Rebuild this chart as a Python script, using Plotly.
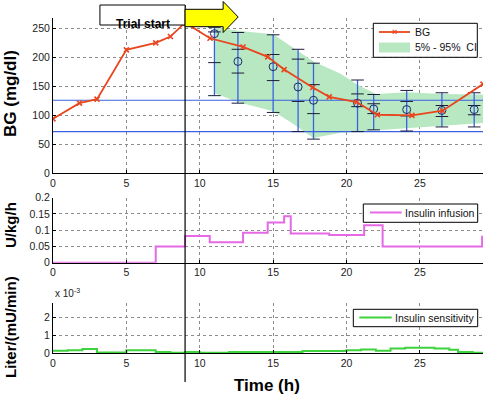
import plotly.graph_objects as go

# ---------------- data ----------------
# Blood glucose (mg/dl)
bg_t = [0, 1.8, 3.0, 5.0, 7.0, 8.0, 9.0, 10.7, 12.95, 14.63, 15.75, 17.7, 18.82, 20.7, 22.1, 24.46, 26.55, 29.3]
bg_v = [94, 121, 128, 213, 225, 236, 260, 233, 218, 201, 179, 148, 132, 123, 101, 100, 108, 154]

# 5%-95% confidence band
band_t = [11.0, 12.6, 15.0, 16.2, 17.75, 19.6, 20.75, 22.0, 24.1, 26.5, 29.3]
band_hi = [252, 246, 240, 219, 193, 172, 153, 137, 140, 137, 136]
band_lo = [138, 123, 107, 88, 61, 70, 72, 75, 78, 82, 87]

# Prediction error bars (mean circle, percentile ticks)
eb_t = [11.0, 12.6, 15.0, 16.7, 17.75, 20.75, 21.85, 24.1, 26.5, 28.7]
eb_mean = [241, 193, 184, 149, 126, 121, 111, 110, 108.5, 110]
eb_p5 = [134, 121, 105, 72, 59, 72, 75, 73, 80, 80]
eb_p25 = [191, 173, 160, 124, 103, 115, 103, 99, 98, 101]
eb_p75 = [244, 214, 205, 197, 153, 137, 120, 124, 117, 117]
eb_p95 = [252, 243, 239, 214, 190, 161, 136, 143, 139, 139]

# Target range (mg/dl)
target_lo = 72
target_hi = 126

# Insulin infusion (U/kg/h), step function
ins_t = [0, 7.0, 9.0, 10.68, 12.95, 14.63, 15.75, 16.2, 18.82, 21.2, 22.46, 29.24, 29.3]
ins_v = [0, 0.05, 0.082, 0.063, 0.092, 0.124, 0.143, 0.090, 0.085, 0.115, 0.050, 0.080, 0.080]

# Insulin sensitivity (Liter/(mU/min)), step function
sens_t = [0, 1, 2, 3, 5, 7, 8, 9, 10, 12, 17, 20, 21, 22, 23, 24, 26, 27, 27.6, 28.6, 29.3]
sens_v = [0.00012, 0.00015, 0.00022, 0.00003, 0.00015, 0.00006, 0.00002, 0.00006, 0.00002,
          0.00006, 0.00011, 0.00015, 0.00020, 0.00013, 0.00025, 0.00030, 0.00025, 0.00019,
          0.00006, 0.00002, 0.00002]

trial_start = 9.0
x_ticks = [0, 5, 10, 15, 20, 25]
x_max = 29.3

FONT = "Liberation Sans"
RED = "#e8461e"
GREEN_BAND = "#b8e8c2"
BLUE = "#3a62e0"
MAGENTA = "#e568e5"
GREEN = "#3fd23f"

fig = go.Figure()

# CI band
fig.add_trace(go.Scatter(
    x=band_t + band_t[::-1], y=band_hi + band_lo[::-1],
    fill="toself", fillcolor=GREEN_BAND, line=dict(width=0),
    mode="lines", name="5% - 95%  CI", xaxis="x", yaxis="y"))

# target lines
for v in (target_lo, target_hi):
    fig.add_trace(go.Scatter(x=[0, x_max], y=[v, v], mode="lines",
                             line=dict(color=BLUE, width=1.1), xaxis="x", yaxis="y",
                             hoverinfo="skip"))

# vertical error bars
ex, ey = [], []
for t, lo, hi in zip(eb_t, eb_p5, eb_p95):
    ex += [t, t, None]
    ey += [lo, hi, None]
fig.add_trace(go.Scatter(x=ex, y=ey, mode="lines", line=dict(color=BLUE, width=1.3),
                         xaxis="x", yaxis="y"))
# percentile ticks
tx, ty = [], []
for arr in (eb_p5, eb_p25, eb_p75, eb_p95):
    tx += eb_t
    ty += arr
fig.add_trace(go.Scatter(x=tx, y=ty, mode="markers",
                         marker=dict(symbol="line-ew", size=9, line=dict(color="#1c1c3a", width=1)),
                         xaxis="x", yaxis="y"))
# mean circles
fig.add_trace(go.Scatter(x=eb_t, y=eb_mean, mode="markers",
                         marker=dict(symbol="circle-open", size=8, color="#1c2a6a",
                                     line=dict(width=1)),
                         xaxis="x", yaxis="y"))

# BG line
fig.add_trace(go.Scatter(x=bg_t, y=bg_v, mode="lines+markers", name="BG",
                         line=dict(color=RED, width=1.8),
                         marker=dict(symbol="x-thin", size=5, line=dict(color=RED, width=1.6)),
                         xaxis="x", yaxis="y"))

# Insulin infusion
fig.add_trace(go.Scatter(x=ins_t, y=ins_v, mode="lines", line_shape="hv",
                         name="Insulin infusion", line=dict(color=MAGENTA, width=2),
                         xaxis="x2", yaxis="y2"))

# Insulin sensitivity
fig.add_trace(go.Scatter(x=sens_t, y=sens_v, mode="lines", line_shape="hv",
                         name="Insulin sensitivity", line=dict(color=GREEN, width=2),
                         xaxis="x3", yaxis="y3"))

H_TOP, H_BOT = 18, 43
PLOT_H = 396 - H_TOP - H_BOT


def py(p):  # pixel row -> paper y
    return (396 - H_BOT - p) / PLOT_H


def px(p):  # pixel column -> paper x
    return (p - 53) / (488 - 53 - 5)


tickfont = dict(family=FONT, size=10.5, color="#222")
common_x = dict(range=[0, x_max], tickvals=x_ticks, showgrid=True, gridcolor="#8c8c8c",
                griddash="dot", gridwidth=1, showline=True, linecolor="black", linewidth=1,
                ticks="inside", ticklen=3, tickcolor="black", zeroline=False, tickfont=tickfont,
                domain=[0, 1])
common_y = dict(showgrid=True, gridcolor="#8c8c8c", griddash="dot", gridwidth=1,
                showline=True, linecolor="black", linewidth=1, ticks="inside", ticklen=3,
                tickcolor="black", zeroline=False, tickfont=tickfont)

fig.update_layout(
    width=488, height=396,
    margin=dict(l=53, r=5, t=H_TOP, b=H_BOT),
    paper_bgcolor="white", plot_bgcolor="white",
    font=dict(family=FONT),
    showlegend=False,
    xaxis=dict(common_x, anchor="y"),
    xaxis2=dict(common_x, anchor="y2"),
    xaxis3=dict(common_x, anchor="y3"),
    yaxis=dict(common_y, domain=[py(173.3), 1.0], range=[0, 268],
               tickvals=[0, 50, 100, 150, 200, 250], anchor="x"),
    yaxis2=dict(common_y, domain=[py(262.7), py(197.7)], range=[0, 0.2],
                tickvals=[0, 0.05, 0.1, 0.15, 0.2], ticktext=["0", "0.05", "0.1", "0.15", "0.2"],
                anchor="x2"),
    yaxis3=dict(common_y, domain=[0, py(303.3)], range=[0, 0.0028],
                tickvals=[0, 0.001, 0.002], ticktext=["0", "1", "2"], anchor="x3"),
)

# ---------------- legends (drawn as boxes with real text) ----------------
leg_font = dict(family=FONT, size=10.5, color="#111")


def legend_box(x0, x1, y0, y1):
    fig.add_shape(type="rect", xref="paper", yref="paper", x0=px(x0), x1=px(x1),
                  y0=py(y1), y1=py(y0), fillcolor="white", line=dict(color="black", width=1))


def legend_line(x0, x1, y, color, width):
    fig.add_shape(type="line", xref="paper", yref="paper", x0=px(x0), x1=px(x1),
                  y0=py(y), y1=py(y), line=dict(color=color, width=width))


def legend_text(x, y, text):
    fig.add_annotation(text=text, xref="paper", yref="paper", x=px(x), y=py(y),
                       showarrow=False, font=leg_font, xanchor="left", yanchor="middle")


legend_box(373.3, 477.3, 23.3, 57.3)
legend_line(379, 410, 32, RED, 1.8)
fig.add_annotation(text="<b>×</b>", xref="paper", yref="paper", x=px(394.5), y=py(32),
                   showarrow=False, font=dict(family=FONT, size=9, color=RED),
                   xanchor="center", yanchor="middle")
legend_text(413, 32, "BG")
fig.add_shape(type="rect", xref="paper", yref="paper", x0=px(379), x1=px(410),
              y0=py(52.5), y1=py(42.5), fillcolor=GREEN_BAND, line=dict(width=0))
legend_text(413, 47.5, "5% - 95%  CI")

legend_box(363.3, 477.7, 204, 222.3)
legend_line(370, 401.7, 212.5, MAGENTA, 2)
legend_text(403, 212.5, "Insulin infusion")

legend_box(353.3, 477.7, 309.3, 326.7)
legend_line(359.3, 391.7, 317.5, GREEN, 2)
legend_text(393, 317.5, "Insulin sensitivity")

# ---------------- axis titles ----------------
title_font = dict(family=FONT, size=17, color="black")
fig.add_annotation(text="<b>BG (mg/dl)</b>", xref="paper", yref="paper", x=px(10), y=py(94),
                   textangle=-90, showarrow=False, font=title_font, xanchor="center", yanchor="middle")
fig.add_annotation(text="<b>U/kg/h</b>", xref="paper", yref="paper", x=px(10), y=py(225),
                   textangle=-90, showarrow=False, font=dict(title_font, size=15),
                   xanchor="center", yanchor="middle")
fig.add_annotation(text="<b>Liter/(mU/min)</b>", xref="paper", yref="paper", x=px(10), y=py(327),
                   textangle=-90, showarrow=False, font=dict(title_font, size=15),
                   xanchor="center", yanchor="middle")
fig.add_annotation(text="<b>Time (h)</b>", xref="paper", yref="paper", x=px(267), y=py(385),
                   showarrow=False, font=title_font, xanchor="center", yanchor="middle")
fig.add_annotation(text="x 10<sup>-3</sup>", xref="paper", yref="paper", x=px(53), y=py(293),
                   showarrow=False, font=dict(family=FONT, size=10, color="#222"),
                   xanchor="left", yanchor="middle")

# ---------------- trial start marker ----------------
fig.add_shape(type="line", xref="x", yref="paper", x0=trial_start, x1=trial_start,
              y0=py(382), y1=py(5), line=dict(color="black", width=1.2))
box_left = trial_start - (185 - 100) / 14.65
fig.add_shape(type="rect", xref="x", yref="paper", x0=box_left, x1=trial_start,
              y0=py(25), y1=py(5), fillcolor="white", line=dict(color="black", width=1))
fig.add_annotation(text="<b>Trial start</b>", xref="x", yref="paper",
                   x=(box_left + trial_start) / 2, y=py(15), showarrow=False,
                   font=dict(family=FONT, size=12, color="black"))
a_neck = trial_start + (223 - 185) / 14.65
a_tip = trial_start + (238 - 185) / 14.65
path = (f"M {trial_start},{py(9.3)} L {a_neck},{py(9.3)} L {a_neck},{py(1.5)} "
        f"L {a_tip},{py(17)} L {a_neck},{py(32.5)} L {a_neck},{py(26.7)} "
        f"L {trial_start},{py(26.7)} Z")
fig.add_shape(type="path", xref="x", yref="paper", path=path, fillcolor="#ffff00",
              line=dict(color="black", width=1))

fig.write_html("out.html", config={"displayModeBar": False},
               post_script="document.body.style.margin='0';document.body.style.overflow='hidden';")
